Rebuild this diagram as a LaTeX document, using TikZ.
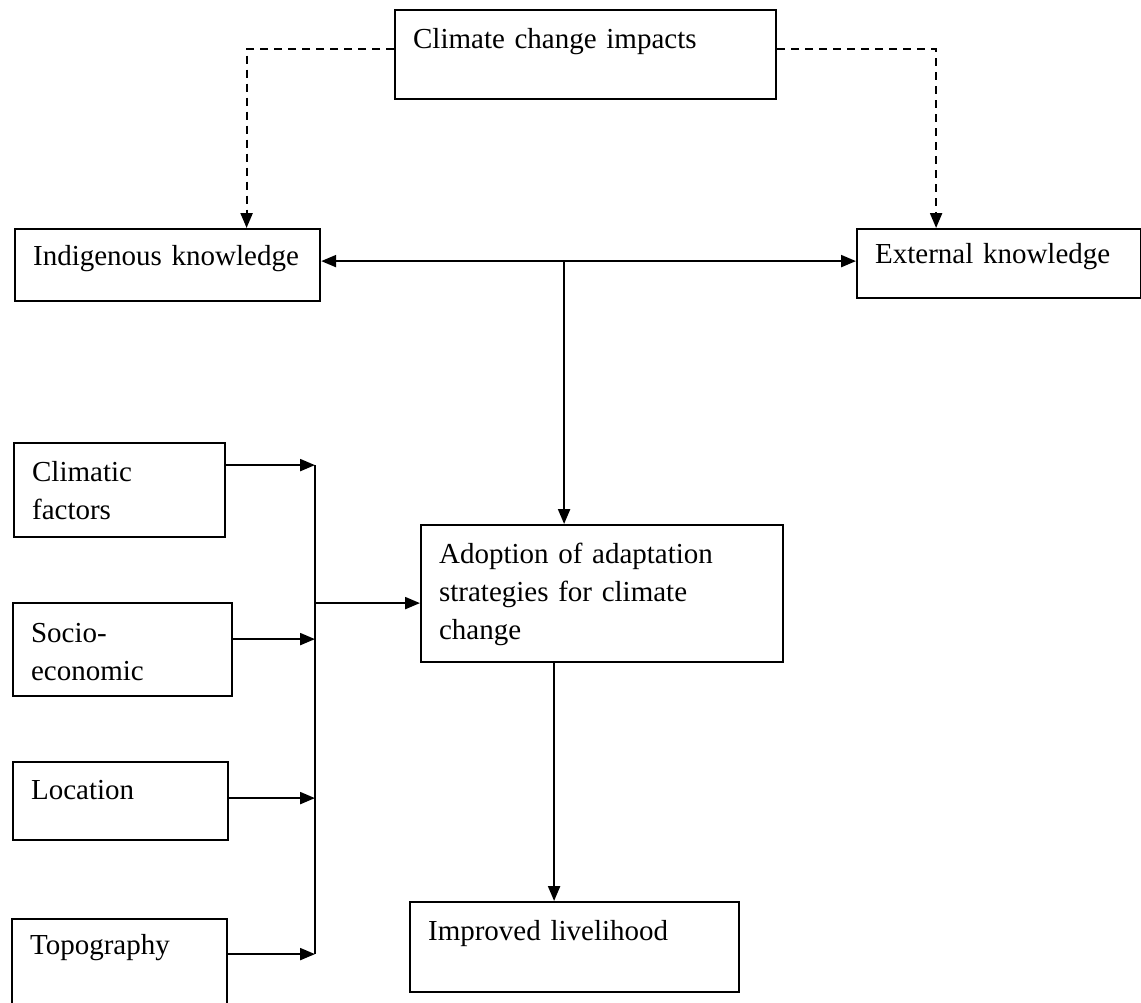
\documentclass[tikz,border=0pt]{standalone}
\usepackage{fontspec}
\setmainfont{Liberation Serif}
\usetikzlibrary{arrows.meta}

\begin{document}
\begin{tikzpicture}
	[->,>={Triangle[length=15pt,width=12pt]},x=1pt,y=-1pt,line width=2.2pt]
	\tikzstyle{box}=[draw,rectangle,anchor=north west,align=left,inner xsep=18pt,inner ysep=0pt,font=\fontsize{29}{38}\selectfont]
	\tikzstyle{link}=[dash pattern=on 8pt off 6pt]

	\useasboundingbox (0,0) rectangle (1141,1002);

	\node[box,text width=345pt,text height=38pt,text depth=51pt] (impacts) at (394,9) {Climate change impacts};
	\node[box,text width=269pt,text height=36pt,text depth=36pt] (indig) at (14,228) {Indigenous knowledge};
	\node[box,text width=248pt,text height=34pt,text depth=35pt] (ext) at (856,228) {External knowledge};
	\node[box,text width=175pt,text height=38pt,text depth=56pt] (climatic) at (13,442) {Climatic\\factors};
	\node[box,text width=183pt,text height=39pt,text depth=54pt] (socio) at (12,602) {Socio-\\economic};
	\node[box,text width=179pt,text height=37pt,text depth=41pt] (location) at (12,761) {Location};
	\node[box,text width=179pt,text height=35pt,text depth=59pt] (topo) at (11,918) {Topography};
	\node[box,text width=326pt,text height=38pt,text depth=99pt] (adopt) at (420,524) {Adoption of adaptation\\strategies for climate\\change};
	\node[box,text width=293pt,text height=38pt,text depth=52pt] (improved) at (409,901) {Improved livelihood};

	% dashed links from the impacts
	\draw[link] ([yshift=5.5pt]impacts.west) -| ([xshift=79pt]indig.north);
	\draw[link] ([yshift=5.5pt]impacts.east) -| ([xshift=-63pt]ext.north);

	% knowledge line
	\coordinate (kn) at ([yshift=4pt]indig.east);
	\draw[<->] (kn) -- (kn -| ext.west);
	\draw ([xshift=-38pt]adopt.north |- kn) -- ([xshift=-38pt]adopt.north);

	% factors into the bus
	\coordinate (bus) at (315,0);
	\coordinate (c1) at ([yshift=25pt]climatic.east);
	\coordinate (c2) at ([yshift=10.5pt]socio.east);
	\coordinate (c3) at ([yshift=3pt]location.east);
	\coordinate (c4) at ([yshift=12pt]topo.east);
	\foreach \c in {c1,c2,c3,c4}
		\draw (\c) -- (\c -| bus);
	\draw[-] (c1 -| bus) -- (c4 -| bus);
	\coordinate (ain) at ([yshift=-9.5pt]adopt.west);
	\draw (ain -| bus) -- (ain);

	\draw ([xshift=-48pt]adopt.south) -- ([xshift=-48pt]adopt.south |- improved.north);
\end{tikzpicture}
\end{document}
